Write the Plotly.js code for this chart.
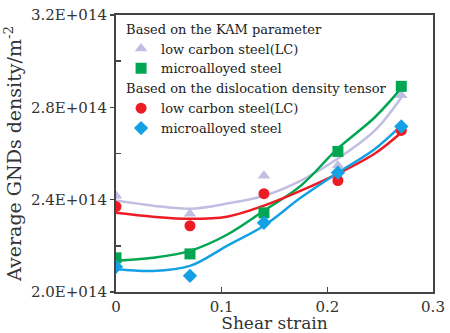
<!DOCTYPE html>
<html>
<head>
<meta charset="utf-8">
<script src="https://cdn.plot.ly/plotly-3.0.1.min.js"></script>
<style>html,body{margin:0;padding:0;background:#fff;}#chart{width:450px;height:333px;}</style>
</head>
<body>
<div id="chart"></div>
<script>
// Measured points (shear strain vs GNDs density, m^-2)
var strain = [0, 0.07, 0.14, 0.21, 0.27];
var kamLC = [2.417e14, 2.339e14, 2.504e14, 2.548e14, 2.852e14];
var kamMA = [2.148e14, 2.165e14, 2.343e14, 2.609e14, 2.891e14];
var ddtLC = [2.370e14, 2.287e14, 2.426e14, 2.483e14, 2.700e14];
var ddtMA = [2.109e14, 2.070e14, 2.300e14, 2.517e14, 2.717e14];

// Fitted curves
var fitStrain = [0, 0.035, 0.07, 0.105, 0.14, 0.175, 0.21, 0.245, 0.27];
var fitKamLC = [2.396e14, 2.374e14, 2.361e14, 2.383e14, 2.417e14, 2.483e14, 2.578e14, 2.700e14, 2.843e14];
var fitKamMA = [2.135e14, 2.148e14, 2.178e14, 2.248e14, 2.352e14, 2.461e14, 2.622e14, 2.757e14, 2.883e14];
var fitDdtLC = [2.343e14, 2.326e14, 2.317e14, 2.326e14, 2.374e14, 2.439e14, 2.513e14, 2.600e14, 2.691e14];
var fitDdtMA = [2.100e14, 2.091e14, 2.113e14, 2.200e14, 2.287e14, 2.409e14, 2.517e14, 2.620e14, 2.722e14];

var yTickVals = [2.0e14, 2.4e14, 2.8e14, 3.2e14];
var yTickText = ['2.0E+014', '2.4E+014', '2.8E+014', '3.2E+014'];
var xTickVals = [0, 0.1, 0.2, 0.3];
var xTickText = ['0', '0.1', '0.2', '0.3'];

var cLav = 'rgb(192,190,226)';
var cGreen = 'rgb(0,166,81)';
var cRed = 'rgb(237,28,36)';
var cBlue = 'rgb(20,160,228)';

var serif = 'DejaVu Serif';

function fit(y, c) {
  return {x: fitStrain, y: y, mode: 'lines', line: {color: c, width: 2.5, shape: 'spline', smoothing: 1}, showlegend: false, hoverinfo: 'skip'};
}
function pts(y, c, sym, name, grp, gtitle) {
  var t = {x: strain, y: y, mode: 'markers', name: name, legendgroup: grp,
    marker: {color: c, symbol: sym, size: 11}};
  if (gtitle) t.legendgrouptitle = {text: gtitle, font: {family: serif, size: 13, color: '#222'}};
  return t;
}

var data = [
  fit(fitKamLC, cLav), fit(fitKamMA, cGreen), fit(fitDdtLC, cRed), fit(fitDdtMA, cBlue),
  pts(kamLC, cLav, 'triangle-up', 'low carbon steel(LC)', 'kam', 'Based on the KAM parameter'),
  pts(kamMA, cGreen, 'square', 'microalloyed steel', 'kam'),
  pts(ddtLC, cRed, 'circle', 'low carbon steel(LC)', 'ddt', 'Based on the dislocation density tensor'),
  pts(ddtMA, cBlue, 'diamond', 'microalloyed steel', 'ddt')
];

var layout = {
  width: 450, height: 333,
  font: {family: serif},
  margin: {l: 116, r: 17, t: 15, b: 41, autoexpand: false},
  paper_bgcolor: '#fff', plot_bgcolor: '#fff',
  showlegend: true,
  legend: {x: 0.016, y: 1.005, xanchor: 'left', yanchor: 'top', bgcolor: 'rgba(0,0,0,0)',
    font: {family: serif, size: 13, color: '#222'}, tracegroupgap: 0, itemwidth: 30},
  xaxis: {
    range: [0, 0.3], tickvals: xTickVals, ticktext: xTickText,
    showgrid: false, zeroline: false, showline: true, mirror: true,
    linecolor: '#444', linewidth: 2, ticks: 'inside', ticklen: 5, tickcolor: '#444', tickwidth: 1.5,
    tickfont: {family: serif, size: 15, color: '#333'},
    title: {text: 'Shear strain', font: {family: serif, size: 17, color: '#333'}, standoff: 8},
    automargin: true
  },
  yaxis: {
    range: [2.0e14, 3.2e14], tickvals: yTickVals, ticktext: yTickText,
    showgrid: false, zeroline: false, showline: true, mirror: true,
    linecolor: '#444', linewidth: 2, ticks: 'outside', ticklen: 4, tickcolor: '#444', tickwidth: 1.5,
    tickfont: {family: serif, size: 15, color: '#333'},
    minor: {tickvals: [2.2e14, 2.6e14, 3.0e14], ticks: 'inside', ticklen: 5, tickcolor: '#444', tickwidth: 1.5, showgrid: false},
    title: {text: 'Average GNDs density/m<sup>-2</sup>', font: {family: serif, size: 19, color: '#333'}, standoff: 4},
    automargin: true
  }
};

Plotly.newPlot('chart', data, layout, {displayModeBar: false, staticPlot: true});
</script>
</body>
</html>
